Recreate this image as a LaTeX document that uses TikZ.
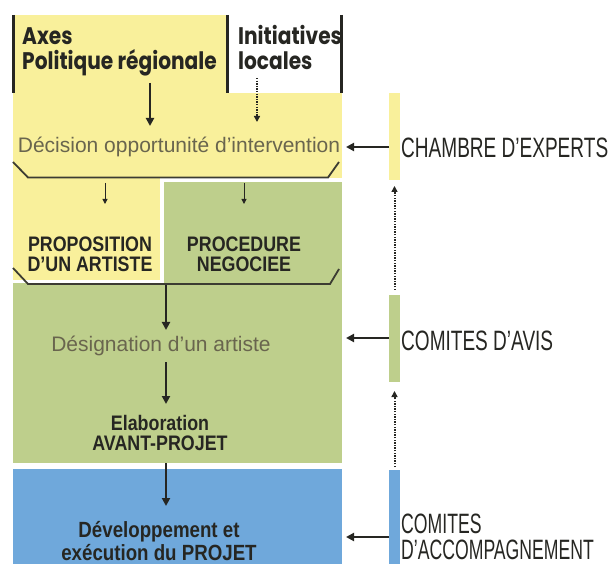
\documentclass[tikz,border=0pt]{standalone}
\usepackage{fontspec}
\setmainfont{Liberation Sans}
\newfontfamily\dinlight[FakeStretch=0.68]{Liberation Sans}
\newfontfamily\dinlightn[FakeStretch=0.63]{Liberation Sans}
\newfontfamily\dinbold[FakeStretch=0.85]{Liberation Sans}
\newfontfamily\futura[FakeStretch=0.84]{Poppins}
\usetikzlibrary{arrows.meta}
\definecolor{cyellow}{RGB}{249,240,155}
\definecolor{cgreen}{RGB}{190,207,140}
\definecolor{cblue}{RGB}{111,168,219}
\definecolor{cgray}{RGB}{105,101,78}
\definecolor{cdark}{RGB}{38,38,34}
\definecolor{cline}{RGB}{60,60,50}
\tikzset{
  bigarrow/.style={line width=2.2pt, draw=cdark, -{Triangle[length=8pt,width=8pt]}},
  smallarrow/.style={line width=1pt, draw=cdark, -{Triangle[length=5pt,width=5pt]}},
  dotarrow/.style={line width=2pt, draw=cdark, dash pattern=on 1.4pt off 1.2pt, -{Triangle[length=6pt,width=6pt]}},
  bracketline/.style={line width=1.8pt, draw=cline},
  topbar/.style={line width=3pt, draw=cdark},
  headtext/.style={font=\futura\bfseries\fontsize{24}{25}\selectfont, text=cdark, inner sep=0pt, align=left},
  greytext/.style={font=\fontsize{21}{21}\selectfont, text=cgray, inner sep=0pt},
  boldtext/.style={font=\dinbold\bfseries\fontsize{21}{20}\selectfont, text=cdark, inner sep=0pt, align=center},
  sidetext/.style={font=\dinlight\fontsize{28}{27}\selectfont, text=cdark, inner sep=0pt, align=left},
}
\begin{document}
\begin{tikzpicture}[x=1pt,y=-1pt]
\useasboundingbox (0,0) rectangle (611,564);
% coloured regions
\fill[cyellow] (13,15) rectangle (227,93);
\fill[cyellow] (13,93) rectangle (342,178);
\fill[cyellow] (13,178) rectangle (160,280.5);
\fill[cgreen] (164,182) rectangle (342,284);
\fill[cgreen] (13,283.5) rectangle (342,463);
\fill[cblue] (13,469) rectangle (342,564);
% side bars
\fill[cyellow] (389,93) rectangle (400,180);
\fill[cgreen] (389,295) rectangle (400,382);
\fill[cblue] (389,470) rectangle (400,564);
% top vertical bars
\draw[topbar] (13.5,15) -- (13.5,93);
\draw[topbar] (227,15) -- (227,93);
\draw[topbar] (341.5,15) -- (341.5,93);
% brackets
\draw[bracketline] (13,162) -- (28,177.5) -- (328,177.5) -- (339,162);
\draw[bracketline] (13,268) -- (28,284) -- (330,284) -- (339,269);
% texts (base anchor = baseline of the last line)
\node[headtext, anchor=base west] (axes) at (22,70) {Axes\\Politique régionale};
\node[headtext, anchor=base west] (init) at (238,70) {Initiatives\\locales};
\node[greytext, anchor=base] (decision) at (179,153) {Décision opportunité d’intervention};
\node[boldtext, anchor=base] (propo) at (90,272) {PROPOSITION\\D’UN ARTISTE};
\node[boldtext, anchor=base] (proc) at (244,272) {PROCEDURE\\NEGOCIEE};
\node[greytext, anchor=base] (design) at (161,352) {Désignation d’un artiste};
\node[boldtext, anchor=base] (elab) at (160,450) {Elaboration\\AVANT-PROJET};
\node[boldtext, anchor=base, font=\dinbold\bfseries\fontsize{22}{23}\selectfont] (dev) at (159,560) {Développement et\\exécution du PROJET};
\node[sidetext, anchor=west] (chambre) at (401,148) {CHAMBRE D’EXPERTS};
\node[sidetext, anchor=west] (avis) at (401,341) {COMITES D’AVIS};
\node[sidetext, font=\dinlightn\fontsize{28}{26}\selectfont, anchor=base west] (accomp) at (401,559) {COMITES\\D’ACCOMPAGNEMENT};
% arrow end points
\coordinate (a1s) at (150,83);   \coordinate (a1e) at (150,126);
\coordinate (a2s) at (257,78);   \coordinate (a2e) at (257,122);
\coordinate (s1s) at (105,183);  \coordinate (s1e) at (105,204);
\coordinate (s2s) at (244,183);  \coordinate (s2e) at (244,204);
\coordinate (b2s) at (166,285);  \coordinate (b2e) at (166,330);
\coordinate (d1s) at (166,362);  \coordinate (d1e) at (166,404);
\coordinate (d2s) at (166,463);  \coordinate (d2e) at (166,506);
\coordinate (cxs) at (389,147);  \coordinate (cxe) at (346,147);
\coordinate (cas) at (389,338);  \coordinate (cae) at (346,338);
\coordinate (ccs) at (389,537);  \coordinate (cce) at (346,537);
\coordinate (v1s) at (394.5,290); \coordinate (v1e) at (394.5,186);
\coordinate (v2s) at (394.5,467); \coordinate (v2e) at (394.5,391);
% arrows
\draw[bigarrow] (a1s) -- (a1e);
\draw[dotarrow] (a2s) -- (a2e);
\draw[smallarrow] (s1s) -- (s1e);
\draw[smallarrow] (s2s) -- (s2e);
\draw[bigarrow] (b2s) -- (b2e);
\draw[bigarrow] (d1s) -- (d1e);
\draw[bigarrow] (d2s) -- (d2e);
\draw[bigarrow] (cxs) -- (cxe);
\draw[bigarrow] (cas) -- (cae);
\draw[bigarrow] (ccs) -- (cce);
\draw[dotarrow] (v1s) -- (v1e);
\draw[dotarrow] (v2s) -- (v2e);
\end{tikzpicture}
\end{document}
